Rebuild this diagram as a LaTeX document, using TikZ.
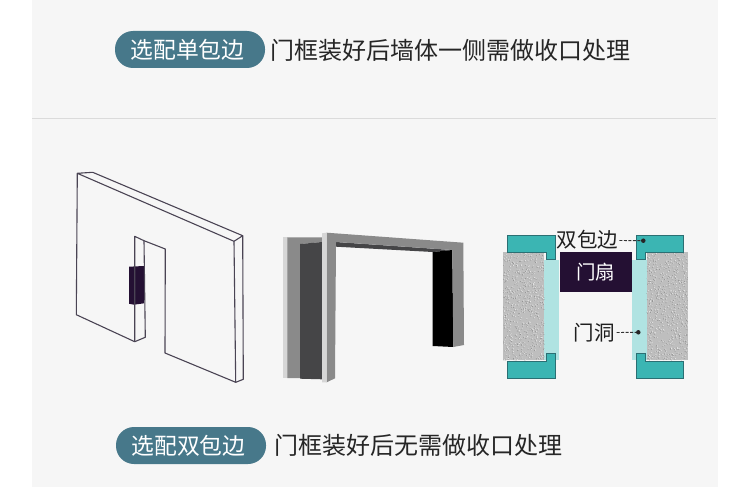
\documentclass[tikz,border=0pt]{standalone}
\usepackage{fontspec}
\setmainfont{Noto Sans CJK SC}
\definecolor{panel}{HTML}{F6F6F6}
\definecolor{pillc}{HTML}{47788A}
\definecolor{wallline}{HTML}{4A4454}
\definecolor{leaf}{HTML}{241033}
\definecolor{tealc}{HTML}{3BB5B3}
\definecolor{tealedge}{HTML}{2B6F73}
\definecolor{paleteal}{HTML}{B0E3E2}
\definecolor{stone}{HTML}{BEBEBE}
\definecolor{framegrey}{HTML}{8A8A8A}
\definecolor{framelight}{HTML}{D6D6D6}
\definecolor{framedark}{HTML}{454547}
\tikzset{
  pill/.style={fill=pillc,rounded corners=18pt,text=white,font=\fontsize{22.8pt}{25pt}\selectfont,minimum width=150pt,minimum height=37pt,inner sep=0pt,anchor=center},
  caption/.style={text=black!85,font=\fontsize{24pt}{26pt}\selectfont,inner sep=0pt,anchor=west},
  smalllabel/.style={text=black!88,font=\fontsize{20.5pt}{22pt}\selectfont,inner sep=0pt},
  wall/.style={draw=wallline,line width=1.1pt,line join=round},
  trim/.style={fill=tealc,draw=tealedge,line width=0.9pt},
  dotmark/.style={circle,fill=black!85,inner sep=0pt,minimum size=4.5pt},
  leader/.style={draw=black!80,line width=0.9pt,dash pattern=on 3pt off 1.5pt}
}
\begin{document}
\begin{tikzpicture}[x=1pt,y=-1pt]
\useasboundingbox (0,0) rectangle (750,487);
\fill[white] (0,0) rectangle (750,487);
\fill[panel] (32,0) rectangle (718,487);
\fill[black!14] (32,117.6) rectangle (716,119.4);
% headings
\node[pill] (pillA) at (190,49.5) {\mbox{选配单包边\kern5pt}};
\node[caption] (capA) at (270,50.5) {门框装好后墙体一侧需做收口处理};
\node[pill] (pillB) at (191,445.5) {\mbox{选配双包边\kern5pt}};
\node[caption] (capB) at (274,445.5) {门框装好后无需做收口处理};
% wall
\fill[leaf] (129,266.7) -- (144,266) -- (144,303.3) -- (134,304.7) -- (129,303.7) -- cycle;
\draw[wall] (77.3,173.3) -- (92.7,172.3) -- (242.7,235.7) -- (234,241.3) -- cycle;
\draw[wall] (77.3,173.3) -- (76.3,314.7) -- (134.7,341.7) -- (134.7,236.3) -- (144,240.7) -- (165.3,249) -- (165,353) -- (235.7,382.3) -- (234,241.3);
\draw[wall] (242.7,235.7) -- (243.3,379.3) -- (235.7,382.3);
\draw[wall] (144,240.7) -- (145.3,337.3) -- (134.7,341.7);
% frame
\fill[framelight] (283.3,237.3) rectangle (287.5,378);
\fill[framegrey] (287.3,237.3) -- (322,237.3) -- (322,242) -- (300,244) -- (300,378) -- (287.3,378) -- cycle;
\fill[framedark] (300,244) -- (322,242) -- (322,379.3) -- (300,378.7) -- cycle;
\fill[framedark] (336,242) -- (452,250) -- (432.7,252) -- (336,246.7) -- cycle;
\fill[black] (432.7,252) -- (452.3,250) -- (453.3,347) -- (432.7,346) -- cycle;
\fill[framegrey] (326.7,232.7) -- (463.3,242.7) -- (464,345) -- (453.3,347) -- (452.3,250) -- (336,242) -- (335,378.3) -- (326.7,382.3) -- cycle;
\fill[framelight] (322,233.3) -- (326.7,232.7) -- (326.7,382.3) -- (322,382.3) -- cycle;
% section
\fill[paleteal] (544,260) rectangle (559.3,360.3);
\fill[paleteal] (632,260) rectangle (646.7,360.3);
\begin{scope}
  \fill[stone] (503.3,252.3) rectangle (544.3,360.3);
  \fill[stone] (646.7,252.3) rectangle (687.7,360.3);
  \pgfmathsetseed{42}
  \clip (503.3,252.3) rectangle (544.3,360.3) (646.7,252.3) rectangle (687.7,360.3);
  \foreach \i in {1,...,650}{
    \pgfmathsetmacro{\px}{503.3+41*rnd}
    \pgfmathsetmacro{\py}{252.3+108*rnd}
    \pgfmathsetmacro{\qx}{646.7+41*rnd}
    \pgfmathsetmacro{\qy}{252.3+108*rnd}
    \fill[black!45] (\px,\py) circle (0.45pt);
    \fill[white!92!black] (\px+0.7,\py-0.5) circle (0.45pt);
    \fill[black!45] (\qx,\qy) circle (0.45pt);
    \fill[white!92!black] (\qx+0.7,\qy-0.5) circle (0.45pt);
  }
\end{scope}
\draw[trim] (507.7,235) -- (555,235) -- (555,259.7) -- (546.7,259.7) -- (546.7,252.3) -- (507.7,252.3) -- cycle;
\draw[trim] (507.7,361) -- (546.7,361) -- (546.7,353.7) -- (555,353.7) -- (555,378.3) -- (507.7,378.3) -- cycle;
\draw[trim] (636,235) -- (683.7,235) -- (683.7,252.3) -- (645,252.3) -- (645,259.7) -- (636,259.7) -- cycle;
\draw[trim] (636,353.7) -- (645,353.7) -- (645,361) -- (683.7,361) -- (683.7,378.3) -- (636,378.3) -- cycle;
\node[fill=leaf,text=white,font=\fontsize{19.5pt}{21pt}\selectfont,minimum width=72.3pt,minimum height=40pt,inner sep=0pt] (leafbox) at (595.8,272.3) {门扇};
\node[smalllabel] (dbl) at (587.3,240) {双包边};
\node[smalllabel] (hole) at (594.3,332.5) {门洞};
\node[dotmark] (dotA) at (643.3,240.7) {};
\node[dotmark] (dotB) at (638.3,332.3) {};
\draw[leader] (dbl.east) ++(1,0.5) -- (dotA);
\draw[leader] (hole.east) ++(1.5,0) -- (dotB);
\end{tikzpicture}
\end{document}
